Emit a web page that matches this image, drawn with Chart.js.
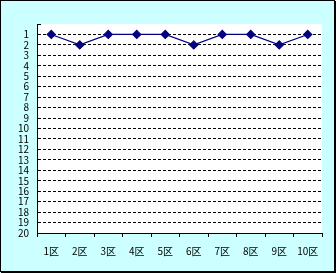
<!DOCTYPE html>
<html><head><meta charset="utf-8">
<script src="https://cdn.jsdelivr.net/npm/chart.js@4"></script>
<style>
html,body{margin:0;padding:0;background:#CCFFFF;}
#wrap{position:absolute;left:0;top:0;width:336px;height:273px;}
</style></head>
<body><div id="wrap"><canvas id="c" width="336" height="273"></canvas></div>
<script>
const categories = ["1区","2区","3区","4区","5区","6区","7区","8区","9区","10区"];
const ranks = [1,2,1,1,1,2,1,1,2,1];
const yMin = 0, yMax = 20;

const bgPlugin = {
  id:'bg',
  beforeDraw(chart){
    const {ctx, chartArea:a, width, height} = chart;
    ctx.save();
    ctx.fillStyle = '#CCFFFF';
    ctx.fillRect(0,0,width,height);
    ctx.fillStyle = '#FFFFFF';
    ctx.fillRect(a.left, a.top, a.right-a.left, a.bottom-a.top);
    ctx.strokeStyle = '#000';
    ctx.lineWidth = 1;
    ctx.strokeRect(0.5,0.5,width-2,height-2);
    ctx.beginPath();
    ctx.moveTo(width-0.5, 1); ctx.lineTo(width-0.5, height);
    ctx.moveTo(1, height-0.5); ctx.lineTo(width, height-0.5);
    ctx.stroke();
    ctx.beginPath();
    ctx.moveTo(a.left, a.top+0.5); ctx.lineTo(a.left+4, a.top+0.5);
    ctx.stroke();
    ctx.restore();
  }
};

new Chart(document.getElementById('c'), {
  type:'line',
  data:{labels:categories, datasets:[{
    data:ranks, borderColor:'#000080', backgroundColor:'#000080', borderWidth:1.2,
    pointStyle:'rectRot', pointRadius:4, pointHoverRadius:4, tension:0, fill:false
  }]},
  options:{
    responsive:false, animation:false, devicePixelRatio:1,
    layout:{padding:{left:0, top:24, right:14, bottom:0}},
    plugins:{legend:{display:false}, tooltip:{enabled:false}},
    scales:{
      x:{
        offset:true,
        grid:{offset:true, drawOnChartArea:false, drawTicks:true, tickLength:4, color:'#000'},
        border:{display:true, color:'#000', width:1},
        ticks:{color:'#000', font:{family:'"Noto Sans CJK JP"', size:10}, padding:8, maxRotation:0, autoSkip:false},
        afterFit(s){ s.height = 40; }
      },
      y:{
        reverse:true, min:yMin, max:yMax,
        grid:{drawTicks:false, color:(c)=> (c.tick && (c.tick.value===0||c.tick.value===20)) ? 'rgba(0,0,0,0)' : '#000', lineWidth:1},
        border:{display:true, color:'#000', width:1, dash:[3,2]},
        ticks:{stepSize:1, autoSkip:false, color:'#000', padding:8, font:{family:'"Noto Sans CJK JP"', size:10},
          callback:(v)=> v===0 ? '' : String(v)},
        afterFit(s){ s.width = 37; }
      }
    }
  },
  plugins:[bgPlugin]
});
</script></body></html>
